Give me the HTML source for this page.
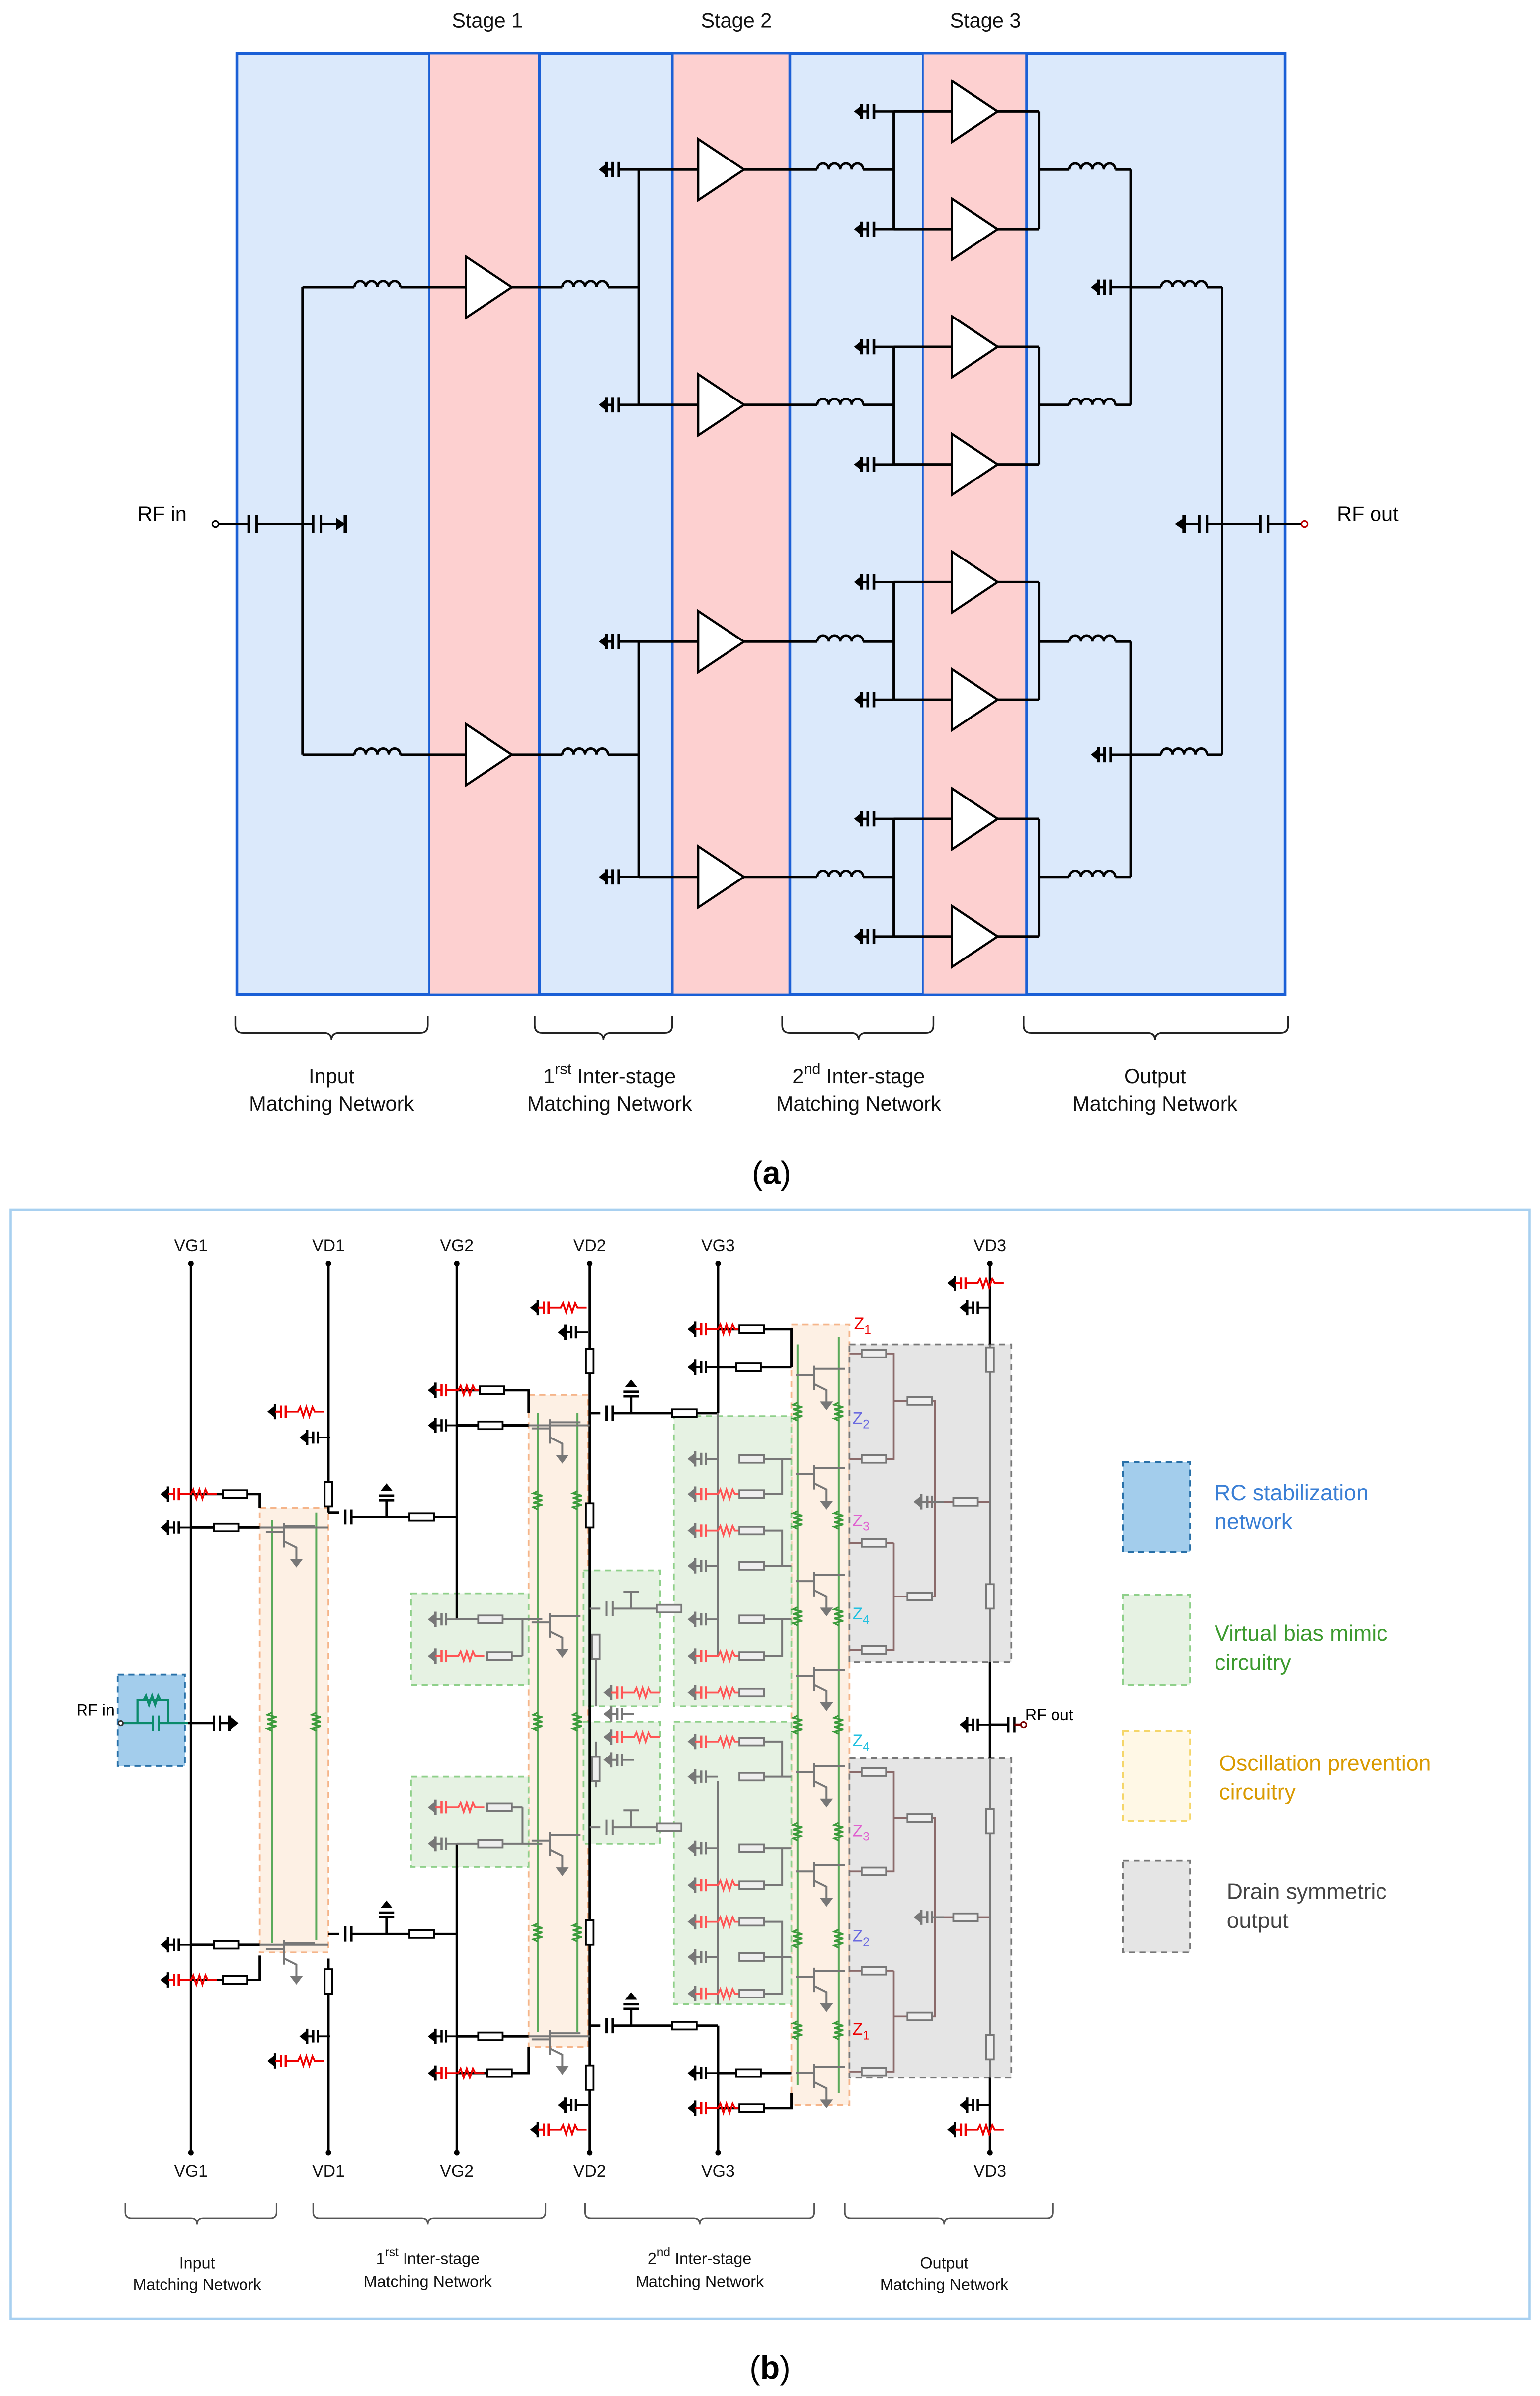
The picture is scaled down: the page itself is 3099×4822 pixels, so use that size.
<!DOCTYPE html>
<html><head><meta charset="utf-8"><style>
html,body{margin:0;padding:0;background:#fff}
svg{display:block}
text{font-family:"Liberation Sans",sans-serif}
</style></head><body>
<svg width="3099" height="4822" viewBox="0 0 1008 1568.4" preserveAspectRatio="none" xmlns="http://www.w3.org/2000/svg">
<defs>
<path id="ind" d="M0 0 a3.75 4 0 0 1 7.5 0 a3.75 4 0 0 1 7.5 0 a3.75 4 0 0 1 7.5 0 a3.75 4 0 0 1 7.5 0" fill="none" stroke="#000" stroke-width="1.6"/>
<g id="amp"><polygon points="0,-20 0,20 30,0" fill="#fff" stroke="#000" stroke-width="1.5"/></g>
<g id="gc"><polygon points="0,0 5,-4 5,4" fill="#000"/><line x1="5" y1="-5" x2="5" y2="5" stroke="#000" stroke-width="2"/><line x1="5" y1="0" x2="9" y2="0" stroke="#000" stroke-width="1.5"/><line x1="9" y1="-5" x2="9" y2="5" stroke="#000" stroke-width="1.8"/><line x1="13" y1="-5" x2="13" y2="5" stroke="#000" stroke-width="1.8"/><line x1="13" y1="0" x2="26" y2="0" stroke="#000" stroke-width="1.5"/></g>
<g id="bgc"><polygon points="0,0 5,-4 5,4" fill="#000"/><line x1="5" y1="-5" x2="5" y2="5" stroke="#000" stroke-width="1.6"/><line x1="5" y1="0" x2="9" y2="0" stroke="#000" stroke-width="1.3"/><line x1="9" y1="-4" x2="9" y2="4" stroke="#000" stroke-width="1.5"/><line x1="12" y1="-4" x2="12" y2="4" stroke="#000" stroke-width="1.5"/><line x1="12" y1="0" x2="20" y2="0" stroke="#000" stroke-width="1.2"/></g>
<g id="rgc"><polygon points="0,0 5,-4 5,4" fill="#000"/><line x1="5" y1="-5" x2="5" y2="5" stroke="#000" stroke-width="1.6"/><line x1="5" y1="0" x2="9" y2="0" stroke="#e00" stroke-width="1.3"/><line x1="9" y1="-4" x2="9" y2="4" stroke="#e00" stroke-width="1.5"/><line x1="12" y1="-4" x2="12" y2="4" stroke="#e00" stroke-width="1.5"/><path d="M12 0 h8 l1.5 -3 l2 6 l2 -6 l2 6 l2 -6 l1.5 3 h6" fill="none" stroke="#e00" stroke-width="1.2"/></g>
<g id="ggc"><polygon points="0,0 5,-4 5,4" fill="#777"/><line x1="5" y1="-5" x2="5" y2="5" stroke="#777" stroke-width="1.6"/><line x1="5" y1="0" x2="9" y2="0" stroke="#777" stroke-width="1.3"/><line x1="9" y1="-4" x2="9" y2="4" stroke="#777" stroke-width="1.5"/><line x1="12" y1="-4" x2="12" y2="4" stroke="#777" stroke-width="1.5"/><line x1="12" y1="0" x2="20" y2="0" stroke="#777" stroke-width="1.2"/></g>
<g id="grc"><polygon points="0,0 5,-4 5,4" fill="#777"/><line x1="5" y1="-5" x2="5" y2="5" stroke="#777" stroke-width="1.6"/><line x1="5" y1="0" x2="9" y2="0" stroke="#f55" stroke-width="1.3"/><line x1="9" y1="-4" x2="9" y2="4" stroke="#f55" stroke-width="1.5"/><line x1="12" y1="-4" x2="12" y2="4" stroke="#f55" stroke-width="1.5"/><path d="M12 0 h8 l1.5 -3 l2 6 l2 -6 l2 6 l2 -6 l1.5 3 h6" fill="none" stroke="#f55" stroke-width="1.2"/></g>
<rect id="rh" x="-8" y="-2.5" width="16" height="5" fill="#fff" stroke="#000" stroke-width="1.2"/>
<rect id="rhg" x="-8" y="-2.5" width="16" height="5" fill="#eee" stroke="#777" stroke-width="1.2"/>
<rect id="rv" x="-2.5" y="-8" width="5" height="16" fill="#fff" stroke="#000" stroke-width="1.2"/>
<rect id="rvg" x="-2.5" y="-8" width="5" height="16" fill="#eee" stroke="#777" stroke-width="1.2"/>
<g id="tr" stroke="#777" stroke-width="1.3" fill="none"><line x1="-12" y1="0" x2="0" y2="0"/><line x1="0" y1="-6" x2="0" y2="10"/><line x1="0" y1="-4" x2="20" y2="-4"/><path d="M0 6 l8 4 v8"/><polygon points="5,18 11,18 8,22" fill="#777"/></g>
<path id="gz" d="M0 -7 l-3 1.5 l6 1.5 l-6 1.5 l6 1.5 l-6 1.5 l6 1.5 l-6 1.5 l3 1.5" fill="none" stroke="#3a9a3a" stroke-width="1.1"/>
</defs>

<rect x="155" y="35" width="686" height="616" fill="#dbe9fb" stroke="#1a5fd6" stroke-width="1.8"/>
<rect x="281" y="35" width="72" height="616" fill="#fdd0d0" stroke="#1a5fd6" stroke-width="1.2"/>
<rect x="440" y="35" width="77" height="616" fill="#fdd0d0" stroke="#1a5fd6" stroke-width="1.2"/>
<rect x="604" y="35" width="68" height="616" fill="#fdd0d0" stroke="#1a5fd6" stroke-width="1.2"/>
<line x1="353" y1="35" x2="353" y2="651" stroke="#1a5fd6" stroke-width="1.8"/>
<line x1="440" y1="35" x2="440" y2="651" stroke="#1a5fd6" stroke-width="1.8"/>
<line x1="517" y1="35" x2="517" y2="651" stroke="#1a5fd6" stroke-width="1.8"/>
<line x1="672" y1="35" x2="672" y2="651" stroke="#1a5fd6" stroke-width="1.8"/>
<g font-size="13.5" fill="#111" text-anchor="middle"><text x="319" y="18">Stage 1</text><text x="482" y="18">Stage 2</text><text x="645" y="18">Stage 3</text></g>

<g stroke="#000" stroke-width="1.6" fill="none">
<line x1="141" y1="343" x2="163" y2="343"/><line x1="163" y1="337" x2="163" y2="349"/><line x1="168" y1="337" x2="168" y2="349"/>
<line x1="168" y1="343" x2="205" y2="343"/><line x1="205" y1="337" x2="205" y2="349"/><line x1="210" y1="337" x2="210" y2="349"/><line x1="210" y1="343" x2="220" y2="343"/><line x1="226" y1="337" x2="226" y2="349" stroke-width="2.2"/>
<line x1="198" y1="188" x2="198" y2="494"/>
<line x1="198" y1="188" x2="232" y2="188"/><line x1="262" y1="188" x2="305" y2="188"/>
<line x1="198" y1="494" x2="232" y2="494"/><line x1="262" y1="494" x2="305" y2="494"/>
<line x1="335" y1="188" x2="368" y2="188"/><line x1="398" y1="188" x2="418" y2="188"/>
<line x1="335" y1="494" x2="368" y2="494"/><line x1="398" y1="494" x2="418" y2="494"/>
<line x1="418" y1="111" x2="418" y2="265"/><line x1="418" y1="420" x2="418" y2="574"/>
<line x1="418" y1="111" x2="457" y2="111"/><line x1="418" y1="265" x2="457" y2="265"/><line x1="418" y1="420" x2="457" y2="420"/><line x1="418" y1="574" x2="457" y2="574"/>
<line x1="487" y1="111" x2="535" y2="111"/><line x1="565" y1="111" x2="585" y2="111"/>
<line x1="487" y1="265" x2="535" y2="265"/><line x1="565" y1="265" x2="585" y2="265"/>
<line x1="487" y1="420" x2="535" y2="420"/><line x1="565" y1="420" x2="585" y2="420"/>
<line x1="487" y1="574" x2="535" y2="574"/><line x1="565" y1="574" x2="585" y2="574"/>
<line x1="585" y1="73" x2="585" y2="150"/><line x1="585" y1="227" x2="585" y2="304"/><line x1="585" y1="381" x2="585" y2="458"/><line x1="585" y1="536" x2="585" y2="613"/>
<line x1="585" y1="73" x2="623" y2="73"/><line x1="585" y1="150" x2="623" y2="150"/><line x1="585" y1="227" x2="623" y2="227"/><line x1="585" y1="304" x2="623" y2="304"/><line x1="585" y1="381" x2="623" y2="381"/><line x1="585" y1="458" x2="623" y2="458"/><line x1="585" y1="536" x2="623" y2="536"/><line x1="585" y1="613" x2="623" y2="613"/>
<line x1="653" y1="73" x2="680" y2="73"/><line x1="653" y1="150" x2="680" y2="150"/><line x1="653" y1="227" x2="680" y2="227"/><line x1="653" y1="304" x2="680" y2="304"/><line x1="653" y1="381" x2="680" y2="381"/><line x1="653" y1="458" x2="680" y2="458"/><line x1="653" y1="536" x2="680" y2="536"/><line x1="653" y1="613" x2="680" y2="613"/>
<line x1="680" y1="73" x2="680" y2="150"/><line x1="680" y1="227" x2="680" y2="304"/><line x1="680" y1="381" x2="680" y2="458"/><line x1="680" y1="536" x2="680" y2="613"/>
<line x1="680" y1="111" x2="700" y2="111"/><line x1="730" y1="111" x2="740" y2="111"/>
<line x1="680" y1="265" x2="700" y2="265"/><line x1="730" y1="265" x2="740" y2="265"/>
<line x1="680" y1="420" x2="700" y2="420"/><line x1="730" y1="420" x2="740" y2="420"/>
<line x1="680" y1="574" x2="700" y2="574"/><line x1="730" y1="574" x2="740" y2="574"/>
<line x1="740" y1="111" x2="740" y2="265"/><line x1="740" y1="420" x2="740" y2="574"/>
<line x1="740" y1="188" x2="760" y2="188"/><line x1="790" y1="188" x2="800" y2="188"/>
<line x1="740" y1="494" x2="760" y2="494"/><line x1="790" y1="494" x2="800" y2="494"/>
<line x1="800" y1="188" x2="800" y2="494"/>
<line x1="800" y1="343" x2="790" y2="343"/><line x1="790" y1="337" x2="790" y2="349"/><line x1="785" y1="337" x2="785" y2="349"/><line x1="785" y1="343" x2="775" y2="343"/><line x1="775" y1="337" x2="775" y2="349" stroke-width="2.2"/>
<line x1="800" y1="343" x2="825" y2="343"/><line x1="825" y1="337" x2="825" y2="349"/><line x1="830" y1="337" x2="830" y2="349"/><line x1="830" y1="343" x2="852" y2="343"/>
</g>
<polygon points="220,339 226,343 220,347" fill="#000"/>
<polygon points="769,343 775,339 775,347" fill="#000"/>
<circle cx="141" cy="343" r="2" fill="#fff" stroke="#000"/><circle cx="854" cy="343" r="2" fill="#fff" stroke="#b00"/>
<text x="90" y="341" font-size="13.5">RF in</text><text x="875" y="341" font-size="13.5">RF out</text>
<use href="#ind" x="232" y="188"/><use href="#ind" x="232" y="494"/><use href="#ind" x="368" y="188"/><use href="#ind" x="368" y="494"/>
<use href="#ind" x="535" y="111"/><use href="#ind" x="535" y="265"/><use href="#ind" x="535" y="420"/><use href="#ind" x="535" y="574"/>
<use href="#ind" x="700" y="111"/><use href="#ind" x="700" y="265"/><use href="#ind" x="700" y="420"/><use href="#ind" x="700" y="574"/>
<use href="#ind" x="760" y="188"/><use href="#ind" x="760" y="494"/>
<use href="#amp" x="305" y="188"/><use href="#amp" x="305" y="494"/>
<use href="#amp" x="457" y="111"/><use href="#amp" x="457" y="265"/><use href="#amp" x="457" y="420"/><use href="#amp" x="457" y="574"/>
<use href="#amp" x="623" y="73"/><use href="#amp" x="623" y="150"/><use href="#amp" x="623" y="227"/><use href="#amp" x="623" y="304"/><use href="#amp" x="623" y="381"/><use href="#amp" x="623" y="458"/><use href="#amp" x="623" y="536"/><use href="#amp" x="623" y="613"/>
<use href="#gc" x="392" y="111"/><use href="#gc" x="392" y="265"/><use href="#gc" x="392" y="420"/><use href="#gc" x="392" y="574"/>
<use href="#gc" x="559" y="73"/><use href="#gc" x="559" y="150"/><use href="#gc" x="559" y="227"/><use href="#gc" x="559" y="304"/><use href="#gc" x="559" y="381"/><use href="#gc" x="559" y="458"/><use href="#gc" x="559" y="536"/><use href="#gc" x="559" y="613"/>
<use href="#gc" x="714" y="188"/><use href="#gc" x="714" y="494"/>
<g fill="none" stroke="#222" stroke-width="1.1">
<path d="M154 665 v6 q0 5 5 5 H212 q5 0 5 5 q0 -5 5 -5 H275 q5 0 5 -5 v-6"/>
<path d="M350 665 v6 q0 5 5 5 H390 q5 0 5 5 q0 -5 5 -5 H435 q5 0 5 -5 v-6"/>
<path d="M512 665 v6 q0 5 5 5 H557 q5 0 5 5 q0 -5 5 -5 H606 q5 0 5 -5 v-6"/>
<path d="M670 665 v6 q0 5 5 5 H751 q5 0 5 5 q0 -5 5 -5 H838 q5 0 5 -5 v-6"/>
</g>
<g font-size="13.5" fill="#111" text-anchor="middle">
<text x="217" y="709">Input</text><text x="217" y="727">Matching Network</text>
<text x="399" y="709">1<tspan font-size="10" dy="-6">rst</tspan><tspan dy="6"> Inter-stage</tspan></text><text x="399" y="727">Matching Network</text>
<text x="562" y="709">2<tspan font-size="10" dy="-6">nd</tspan><tspan dy="6"> Inter-stage</tspan></text><text x="562" y="727">Matching Network</text>
<text x="756" y="709">Output</text><text x="756" y="727">Matching Network</text>
</g>
<text x="505" y="775" font-size="21" text-anchor="middle" font-family="Liberation Serif">(<tspan font-weight="bold">a</tspan>)</text>

<rect x="7" y="792" width="994" height="726" fill="#fff" stroke="#a8d0f0" stroke-width="1.5"/>
<g stroke-dasharray="4,3" stroke-width="1.2">
<rect x="170" y="987" width="45" height="291" fill="#fdf0e4" stroke="#f5b58a"/>
<rect x="346" y="913" width="39" height="427" fill="#fdf0e4" stroke="#f5b58a"/>
<rect x="518" y="867" width="38" height="511" fill="#fdf0e4" stroke="#f5b58a"/>
<rect x="269" y="1043" width="77" height="60" fill="#e6f2e3" stroke="#8fd08a"/>
<rect x="269" y="1163" width="77" height="59" fill="#e6f2e3" stroke="#8fd08a"/>
<rect x="382" y="1028" width="50" height="89" fill="#e6f2e3" stroke="#8fd08a"/>
<rect x="382" y="1127" width="50" height="80" fill="#e6f2e3" stroke="#8fd08a"/>
<rect x="441" y="927" width="77" height="190" fill="#e6f2e3" stroke="#8fd08a"/>
<rect x="441" y="1127" width="77" height="185" fill="#e6f2e3" stroke="#8fd08a"/>
<rect x="556" y="880" width="106" height="208" fill="#e5e5e5" stroke="#777"/>
<rect x="556" y="1151" width="106" height="209" fill="#e5e5e5" stroke="#777"/>
<rect x="77" y="1096" width="44" height="60" fill="#a3cdec" stroke="#2870a8"/>
<rect x="735" y="957" width="44" height="59" fill="#a3cdec" stroke="#2870a8"/>
<rect x="735" y="1044" width="44" height="59" fill="#e6f2e3" stroke="#8fd08a"/>
<rect x="735" y="1133" width="44" height="59" fill="#fff8e6" stroke="#f5d66a"/>
<rect x="735" y="1218" width="44" height="60" fill="#e5e5e5" stroke="#777"/>
</g>
<g font-size="14.5">
<text x="795" y="982" fill="#3a7fd5">RC stabilization</text><text x="795" y="1001" fill="#3a7fd5">network</text>
<text x="795" y="1074" fill="#3c9a2e">Virtual bias mimic</text><text x="795" y="1093" fill="#3c9a2e">circuitry</text>
<text x="798" y="1159" fill="#d99a00">Oscillation prevention</text><text x="798" y="1178" fill="#d99a00">circuitry</text>
<text x="803" y="1243" fill="#444">Drain symmetric</text><text x="803" y="1262" fill="#444">output</text>
</g>
<g stroke="#5aaa5a" stroke-width="1.3">
<line x1="178" y1="995" x2="178" y2="1272"/><line x1="207" y1="990" x2="207" y2="1270"/>
<line x1="352" y1="925" x2="352" y2="1330"/><line x1="378" y1="925" x2="378" y2="1330"/>
<line x1="522" y1="880" x2="522" y2="1365"/><line x1="549" y1="875" x2="549" y2="1370"/>
</g>
<use href="#gz" x="178" y="1128"/><use href="#gz" x="207" y="1128"/>
<g><use href="#gz" x="352" y="983"/><use href="#gz" x="378" y="983"/><use href="#gz" x="352" y="1128"/><use href="#gz" x="378" y="1128"/><use href="#gz" x="352" y="1266"/><use href="#gz" x="378" y="1266"/>
<use href="#gz" x="522" y="925"/><use href="#gz" x="549" y="925"/><use href="#gz" x="522" y="996"/><use href="#gz" x="549" y="996"/><use href="#gz" x="522" y="1059"/><use href="#gz" x="549" y="1059"/><use href="#gz" x="522" y="1130"/><use href="#gz" x="549" y="1130"/><use href="#gz" x="522" y="1200"/><use href="#gz" x="549" y="1200"/><use href="#gz" x="522" y="1270"/><use href="#gz" x="549" y="1270"/><use href="#gz" x="522" y="1330"/><use href="#gz" x="549" y="1330"/></g>

<g font-size="11" text-anchor="middle" fill="#111">
<text x="125" y="819">VG1</text><text x="215" y="819">VD1</text><text x="299" y="819">VG2</text><text x="386" y="819">VD2</text><text x="470" y="819">VG3</text><text x="648" y="819">VD3</text>
<text x="125" y="1425">VG1</text><text x="215" y="1425">VD1</text><text x="299" y="1425">VG2</text><text x="386" y="1425">VD2</text><text x="470" y="1425">VG3</text><text x="648" y="1425">VD3</text>
</g>
<g stroke="#000" stroke-width="1.6" fill="none">
<line x1="125" y1="827" x2="125" y2="1409"/>
<line x1="215" y1="827" x2="215" y2="990"/><line x1="215" y1="1282" x2="215" y2="1409"/>
<line x1="299" y1="827" x2="299" y2="1060"/><line x1="299" y1="1207" x2="299" y2="1409"/>
<line x1="386" y1="827" x2="386" y2="1409"/>
<line x1="470" y1="827" x2="470" y2="925"/><line x1="470" y1="1326" x2="470" y2="1409"/>
<line x1="648" y1="827" x2="648" y2="880"/><line x1="648" y1="1088" x2="648" y2="1151"/><line x1="648" y1="1360" x2="648" y2="1409"/>
<path d="M125 978 H170 V987"/><path d="M125 1000 H170"/><path d="M125 1273 H170"/><path d="M125 1296 H170 V1280"/>
<path d="M215 990 H222"/><path d="M230 993 H299"/><line x1="226" y1="988" x2="226" y2="998"/><line x1="230" y1="988" x2="230" y2="998"/>
<path d="M253 993 V982"/><line x1="248" y1="982" x2="258" y2="982"/><line x1="248" y1="979" x2="258" y2="979"/>
<path d="M215 1266 H222"/><path d="M230 1266 H299"/><line x1="226" y1="1261" x2="226" y2="1271"/><line x1="230" y1="1261" x2="230" y2="1271"/>
<path d="M253 1266 V1255"/><line x1="248" y1="1255" x2="258" y2="1255"/><line x1="248" y1="1252" x2="258" y2="1252"/>
<path d="M299 910 H346 V925"/><path d="M299 933 H346"/>
<path d="M299 1333 H346"/><path d="M299 1357 H346 V1340"/>
<path d="M386 925 H393"/><line x1="397" y1="920" x2="397" y2="930"/><line x1="401" y1="920" x2="401" y2="930"/><path d="M401 925 H470"/>
<path d="M413 925 V914"/><line x1="408" y1="914" x2="418" y2="914"/><line x1="408" y1="911" x2="418" y2="911"/>
<path d="M386 1326 H393"/><line x1="397" y1="1321" x2="397" y2="1331"/><line x1="401" y1="1321" x2="401" y2="1331"/><path d="M401 1326 H470"/>
<path d="M413 1326 V1315"/><line x1="408" y1="1315" x2="418" y2="1315"/><line x1="408" y1="1312" x2="418" y2="1312"/>
<path d="M470 870 H518 V895"/><path d="M470 895 H518"/>
<path d="M470 1357 H518"/><path d="M470 1380 H518 V1370"/>
<path d="M648 1129 H660"/>
</g>
<g fill="#000"><circle cx="125" cy="827" r="1.8"/><circle cx="215" cy="827" r="1.8"/><circle cx="299" cy="827" r="1.8"/><circle cx="386" cy="827" r="1.8"/><circle cx="470" cy="827" r="1.8"/><circle cx="648" cy="827" r="1.8"/>
<circle cx="125" cy="1409" r="1.8"/><circle cx="215" cy="1409" r="1.8"/><circle cx="299" cy="1409" r="1.8"/><circle cx="386" cy="1409" r="1.8"/><circle cx="470" cy="1409" r="1.8"/><circle cx="648" cy="1409" r="1.8"/></g>
<polygon points="249,976 253,971 257,976" fill="#000"/><polygon points="249,1249 253,1244 257,1249" fill="#000"/>
<polygon points="409,908 413,903 417,908" fill="#000"/><polygon points="409,1309 413,1304 417,1309" fill="#000"/>
<use href="#rgc" x="105" y="978"/><use href="#bgc" x="105" y="1000"/><use href="#bgc" x="105" y="1273"/><use href="#rgc" x="105" y="1296"/>
<use href="#rh" x="154" y="978"/><use href="#rh" x="148" y="1000"/><use href="#rh" x="148" y="1273"/><use href="#rh" x="154" y="1296"/>
<use href="#rgc" x="175" y="924"/><use href="#bgc" x="196" y="941"/><use href="#rv" x="215" y="978"/>
<use href="#rgc" x="175" y="1349"/><use href="#bgc" x="196" y="1333"/><use href="#rv" x="215" y="1297"/>
<use href="#rh" x="276" y="993"/><use href="#rh" x="276" y="1266"/>
<use href="#rgc" x="280" y="910"/><use href="#bgc" x="280" y="933"/><use href="#rh" x="322" y="910"/><use href="#rh" x="321" y="933"/>
<use href="#bgc" x="280" y="1333"/><use href="#rgc" x="280" y="1357"/><use href="#rh" x="321" y="1333"/><use href="#rh" x="327" y="1357"/>
<use href="#rgc" x="347" y="856"/><use href="#bgc" x="365" y="872"/><use href="#rv" x="386" y="891"/>
<use href="#rv" x="386" y="992"/><use href="#rv" x="386" y="1265"/>
<use href="#rgc" x="347" y="1394"/><use href="#bgc" x="365" y="1378"/><use href="#rv" x="386" y="1360"/>
<use href="#rh" x="448" y="925"/><use href="#rh" x="448" y="1326"/>
<use href="#rgc" x="450" y="870"/><use href="#bgc" x="450" y="895"/><use href="#rh" x="492" y="870"/><use href="#rh" x="490" y="895"/>
<use href="#bgc" x="450" y="1357"/><use href="#rgc" x="450" y="1380"/><use href="#rh" x="490" y="1357"/><use href="#rh" x="492" y="1380"/>
<use href="#rgc" x="620" y="840"/><use href="#bgc" x="628" y="856"/>
<use href="#rgc" x="620" y="1394"/><use href="#bgc" x="628" y="1378"/>
<use href="#bgc" x="628" y="1129"/>
<g stroke="#000" stroke-width="1.5"><line x1="660" y1="1124" x2="660" y2="1134"/><line x1="664" y1="1124" x2="664" y2="1134"/><line x1="664" y1="1129" x2="669" y2="1129" stroke="#700"/></g>
<circle cx="670" cy="1129" r="1.8" fill="#fff" stroke="#700"/>
<text x="671" y="1126" font-size="10.5">RF out</text>
<text x="50" y="1123" font-size="10.5">RF in</text>
<g stroke="#0a8a6a" stroke-width="1.4" fill="none"><path d="M80 1128 H100"/><line x1="100" y1="1123" x2="100" y2="1133"/><line x1="104" y1="1123" x2="104" y2="1133"/><path d="M104 1128 H123"/><path d="M90 1128 V1113 H110 V1128"/><path d="M94 1113 l1.5 -3 l2 6 l2 -6 l2 6 l2 -6 l1.5 3"/></g>
<g stroke="#000" stroke-width="1.5"><line x1="123" y1="1128" x2="140" y2="1128"/><line x1="140" y1="1123" x2="140" y2="1133"/><line x1="144" y1="1123" x2="144" y2="1133"/><line x1="144" y1="1128" x2="150" y2="1128"/><line x1="150" y1="1123" x2="150" y2="1133" stroke-width="2"/></g>
<polygon points="156,1128 151,1124 151,1132" fill="#000"/>
<circle cx="79" cy="1128" r="1.5" fill="#fff" stroke="#333"/>
<g stroke="#777" stroke-width="1.3" fill="none">
<path d="M170 1000 H215"/><path d="M170 1273 H215"/>
<path d="M346 933 H386"/><path d="M342 1060 V1084"/><path d="M299 1060 H355"/><path d="M342 1084 H330"/>
<path d="M342 1183 V1207"/><path d="M299 1207 H355"/><path d="M342 1183 H330"/><path d="M346 1333 H386"/>
<path d="M386 1053 H393"/><line x1="397" y1="1048" x2="397" y2="1058"/><line x1="401" y1="1048" x2="401" y2="1058"/><path d="M401 1053 H432"/>
<path d="M386 1196 H393"/><line x1="397" y1="1191" x2="397" y2="1201"/><line x1="401" y1="1191" x2="401" y2="1201"/><path d="M401 1196 H432"/>
<path d="M413 1053 V1042"/><line x1="408" y1="1042" x2="418" y2="1042"/><path d="M413 1196 V1185"/><line x1="408" y1="1185" x2="418" y2="1185"/>
<path d="M390 1070 V1117"/><path d="M390 1140 V1170"/>
<path d="M470 925 V1084"/><path d="M470 1166 V1312"/>
</g>
<use href="#tr" x="186" y="1003"/><use href="#tr" x="186" y="1276"/>
<use href="#tr" x="360" y="935"/><use href="#tr" x="360" y="1062"/><use href="#tr" x="360" y="1205"/><use href="#tr" x="360" y="1335"/>
<g>
<use href="#tr" x="533" y="900"/><use href="#tr" x="533" y="965"/><use href="#tr" x="533" y="1035"/><use href="#tr" x="533" y="1097"/><use href="#tr" x="533" y="1160"/><use href="#tr" x="533" y="1225"/><use href="#tr" x="533" y="1294"/><use href="#tr" x="533" y="1357"/>
</g>
<g>
<use href="#ggc" x="280" y="1060"/><use href="#grc" x="280" y="1084"/><use href="#rhg" x="321" y="1060"/><use href="#rhg" x="327" y="1084"/>
<use href="#grc" x="280" y="1183"/><use href="#ggc" x="280" y="1207"/><use href="#rhg" x="327" y="1183"/><use href="#rhg" x="321" y="1207"/>
<use href="#rvg" x="390" y="1078"/><use href="#rvg" x="390" y="1158"/>
<use href="#grc" x="395" y="1108"/><use href="#ggc" x="395" y="1122"/><use href="#grc" x="395" y="1137"/><use href="#ggc" x="395" y="1152"/>
<use href="#rhg" x="438" y="1053"/><use href="#rhg" x="438" y="1196"/>
</g>
<g>
<use href="#ggc" x="450" y="955"/><use href="#grc" x="450" y="978"/><use href="#grc" x="450" y="1002"/><use href="#ggc" x="450" y="1025"/><use href="#ggc" x="450" y="1060"/><use href="#grc" x="450" y="1084"/><use href="#grc" x="450" y="1108"/>
<use href="#grc" x="450" y="1140"/><use href="#ggc" x="450" y="1163"/><use href="#ggc" x="450" y="1210"/><use href="#grc" x="450" y="1234"/><use href="#grc" x="450" y="1258"/><use href="#ggc" x="450" y="1281"/><use href="#grc" x="450" y="1305"/>
<use href="#rhg" x="492" y="955"/><use href="#rhg" x="492" y="978"/><use href="#rhg" x="492" y="1002"/><use href="#rhg" x="492" y="1025"/><use href="#rhg" x="492" y="1060"/><use href="#rhg" x="492" y="1084"/><use href="#rhg" x="492" y="1108"/>
<use href="#rhg" x="492" y="1140"/><use href="#rhg" x="492" y="1163"/><use href="#rhg" x="492" y="1210"/><use href="#rhg" x="492" y="1234"/><use href="#rhg" x="492" y="1258"/><use href="#rhg" x="492" y="1281"/><use href="#rhg" x="492" y="1305"/>
</g>
<g stroke="#777" stroke-width="1.3" fill="none">
<path d="M500 955 H518"/><path d="M500 978 H512 V955"/><path d="M500 1002 H512 V1025"/><path d="M500 1025 H518"/><path d="M500 1060 H518"/><path d="M500 1084 H512 V1060"/>
<path d="M500 1140 H512 V1163"/><path d="M500 1163 H518"/><path d="M500 1210 H518"/><path d="M500 1234 H512 V1210"/><path d="M500 1258 H512 V1281"/><path d="M500 1281 H518"/><path d="M500 1305 H512 V1281"/>
</g>
<g stroke="#8a6a6a" stroke-width="1.2" fill="none">
<path d="M556 886 H585 V955 H556"/><path d="M585 917 H612 V1045 H585"/><path d="M585 1010 V1080 H556"/><path d="M556 1010 H585"/><path d="M600 983 H648"/>
<path d="M556 1160 H585 V1225 H556"/><path d="M585 1190 H612 V1320 H585"/><path d="M585 1290 V1356 H556"/><path d="M556 1290 H585"/><path d="M612 1255 H648"/>
</g>
<line x1="648" y1="880" x2="648" y2="1088" stroke="#777" stroke-width="1.3"/><line x1="648" y1="1151" x2="648" y2="1360" stroke="#777" stroke-width="1.3"/>
<g><use href="#rhg" x="572" y="886"/><use href="#rhg" x="572" y="955"/><use href="#rhg" x="572" y="1010"/><use href="#rhg" x="572" y="1080"/><use href="#rhg" x="602" y="917"/><use href="#rhg" x="602" y="1045"/><use href="#rhg" x="632" y="983"/>
<use href="#rhg" x="572" y="1160"/><use href="#rhg" x="572" y="1225"/><use href="#rhg" x="572" y="1290"/><use href="#rhg" x="572" y="1356"/><use href="#rhg" x="602" y="1190"/><use href="#rhg" x="602" y="1320"/><use href="#rhg" x="632" y="1255"/>
<use href="#rvg" x="648" y="890"/><use href="#rvg" x="648" y="1045"/><use href="#rvg" x="648" y="1192"/><use href="#rvg" x="648" y="1340"/>
<use href="#ggc" x="598" y="983"/><use href="#ggc" x="598" y="1255"/></g>
<g font-size="11">
<text x="559" y="870" fill="#e00">Z<tspan font-size="8" dy="3">1</tspan></text>
<text x="558" y="932" fill="#6a6ae0">Z<tspan font-size="8" dy="3">2</tspan></text>
<text x="558" y="999" fill="#e060d0">Z<tspan font-size="8" dy="3">3</tspan></text>
<text x="558" y="1060" fill="#20c0e0">Z<tspan font-size="8" dy="3">4</tspan></text>
<text x="558" y="1143" fill="#20c0e0">Z<tspan font-size="8" dy="3">4</tspan></text>
<text x="558" y="1202" fill="#e060d0">Z<tspan font-size="8" dy="3">3</tspan></text>
<text x="558" y="1271" fill="#6a6ae0">Z<tspan font-size="8" dy="3">2</tspan></text>
<text x="558" y="1332" fill="#e00">Z<tspan font-size="8" dy="3">1</tspan></text>
</g>
<g fill="none" stroke="#555" stroke-width="1">
<path d="M82 1442 v6 q0 4 4 4 H125 q4 0 4 4 q0 -4 4 -4 H177 q4 0 4 -4 v-6"/>
<path d="M205 1442 v6 q0 4 4 4 H276 q4 0 4 4 q0 -4 4 -4 H353 q4 0 4 -4 v-6"/>
<path d="M383 1442 v6 q0 4 4 4 H454 q4 0 4 4 q0 -4 4 -4 H529 q4 0 4 -4 v-6"/>
<path d="M553 1442 v6 q0 4 4 4 H614 q4 0 4 4 q0 -4 4 -4 H685 q4 0 4 -4 v-6"/>
</g>
<g font-size="10.5" fill="#111" text-anchor="middle">
<text x="129" y="1485">Input</text><text x="129" y="1499">Matching Network</text>
<text x="280" y="1482">1<tspan font-size="8" dy="-5">rst</tspan><tspan dy="5"> Inter-stage</tspan></text><text x="280" y="1497">Matching Network</text>
<text x="458" y="1482">2<tspan font-size="8" dy="-5">nd</tspan><tspan dy="5"> Inter-stage</tspan></text><text x="458" y="1497">Matching Network</text>
<text x="618" y="1485">Output</text><text x="618" y="1499">Matching Network</text>
</g>
<text x="504" y="1557" font-size="21" text-anchor="middle" font-family="Liberation Serif">(<tspan font-weight="bold">b</tspan>)</text>
</svg>
</body></html>
